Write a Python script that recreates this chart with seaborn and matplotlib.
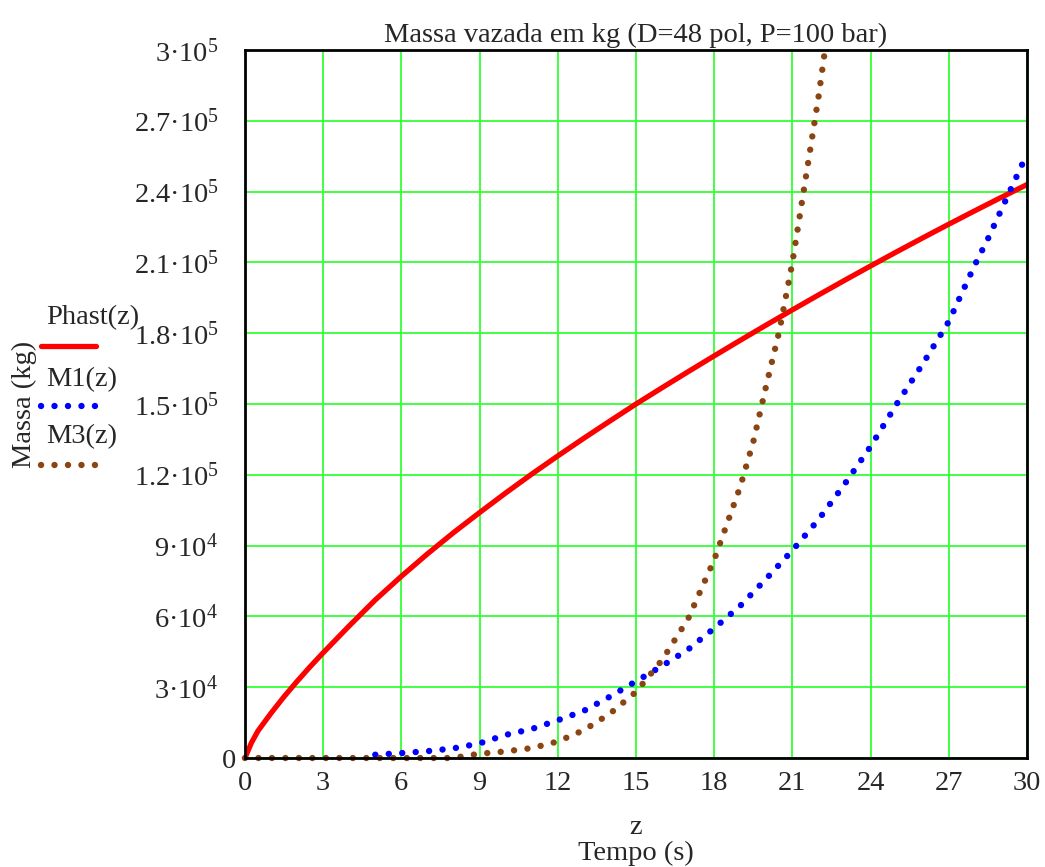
import numpy as np
import pandas as pd
import matplotlib
matplotlib.use("Agg")
import matplotlib.pyplot as plt
from matplotlib.lines import Line2D
import seaborn as sns

# Dados (tempo em s, massa em kg)
z_phast = [0, 0.25, 0.5, 1, 1.5, 2, 2.5, 3, 4, 5, 6, 7, 8, 9, 10, 11, 12, 13, 14, 15, 16,
           17, 18, 19, 20, 21, 22, 23, 24, 25, 26, 27, 28, 29, 30]
phast = [0, 6.5e3, 11.5e3, 19e3, 26e3, 32.5e3, 38.7e3, 44.6e3, 56e3, 67e3, 77e3, 86.5e3,
         95.5e3, 104e3, 112.3e3, 120.3e3, 128e3, 135.5e3, 142.8e3, 150e3, 156.9e3,
         163.7e3, 170.4e3, 177e3, 183.5e3, 189.9e3, 196.2e3, 202.4e3, 208.5e3, 214.5e3,
         220.4e3, 226.2e3, 231.9e3, 237.5e3, 243e3]

z_m1 = [5, 6, 7, 8, 9, 10, 11, 12, 13, 14, 15, 16, 17, 18, 19, 20, 21, 22, 23, 24, 25, 26,
        27, 27.5, 28, 28.5, 29, 29.5, 30]
m1 = [1.4e3, 2.1e3, 2.9e3, 4.1e3, 6.2e3, 9.8e3, 12.3e3, 16e3, 20e3, 26e3, 32.5e3, 39e3,
      46e3, 55e3, 64.5e3, 76e3, 88e3, 101e3, 116e3, 132e3, 150e3, 167e3, 185e3, 197e3,
      209e3, 220e3, 232e3, 244e3, 256e3]

z_m3 = [0, 1, 2, 3, 4, 5, 6, 7, 8, 8.5, 9, 10, 11, 12, 13, 14, 15, 16, 17, 18, 19, 19.5,
        20, 20.5, 21, 21.5, 22, 22.25]
m3 = [0, 0, 0, 0, 0, 0, 0, 0, 0, 1e3, 1.8e3, 2.8e3, 4.2e3, 7e3, 11.8e3, 18.8e3, 28e3,
      41.5e3, 59e3, 84e3, 115e3, 134e3, 158e3, 181e3, 210e3, 245e3, 280e3, 300e3]

xticks = [0, 3, 6, 9, 12, 15, 18, 21, 24, 27, 30]
yticks = [0, 3e4, 6e4, 9e4, 1.2e5, 1.5e5, 1.8e5, 2.1e5, 2.4e5, 2.7e5, 3e5]
ytick_labels = ['0', '3·10$^{4}$', '6·10$^{4}$', '9·10$^{4}$', '1.2·10$^{5}$',
                '1.5·10$^{5}$', '1.8·10$^{5}$', '2.1·10$^{5}$', '2.4·10$^{5}$',
                '2.7·10$^{5}$', '3·10$^{5}$']

series_names = ['Phast(z)', 'M1(z)', 'M3(z)']
series_colors = ['#ff0000', '#0000ff', '#8b4513']

sns.set_style("white")
plt.rcParams['font.family'] = ['Liberation Serif', 'DejaVu Serif']
plt.rcParams['mathtext.fontset'] = 'custom'
plt.rcParams['mathtext.rm'] = 'Liberation Serif'
plt.rcParams['mathtext.it'] = 'Liberation Serif:italic'

FS = 20.5
fig = plt.figure(figsize=(10.45, 8.67), dpi=100)
ax = fig.add_axes([0.2344, 0.1257, 0.7484, 0.8166])

dot = (0, (0.01, 2.1))
solid = dict(linewidth=3.8, linestyle='-')
dotted = dict(linewidth=4.6, linestyle=dot, dash_capstyle='round')

sns.lineplot(x=z_phast, y=phast, ax=ax, color=series_colors[0], sort=False, **solid)
sns.lineplot(x=z_m1, y=m1, ax=ax, color=series_colors[1], sort=False, clip_on=False, **dotted)
sns.lineplot(x=z_m3, y=m3, ax=ax, color=series_colors[2], sort=False, clip_on=False, **dotted)

ax.set_xlim(0, 30)
ax.set_ylim(0, 3e5)
ax.set_xticks(xticks)
ax.set_xticklabels([str(t) for t in xticks])
ax.set_yticks(yticks)
ax.set_yticklabels(ytick_labels)
ax.tick_params(length=0, labelsize=FS)
ax.tick_params(axis='x', pad=9)
ax.tick_params(axis='y', pad=19)
# o "0" do eixo y fica mais perto do eixo
ax.yaxis.get_major_ticks()[0].set_pad(6)
ax.grid(True, color='#33ff33', linewidth=1.3)
ax.set_axisbelow(True)
for s in ax.spines.values():
    s.set_color('black')
    s.set_linewidth(2)

ax.set_title('Massa vazada em kg (D=48 pol, P=100 bar)', fontsize=FS, pad=6)
fig.text(636 / 1045, 1 - 828 / 867, 'z', fontsize=FS, ha='center', va='center')
fig.text(636 / 1045, 1 - 853 / 867, 'Tempo (s)', fontsize=FS, ha='center', va='center')
fig.text(24 / 1045, 1 - 404 / 867, 'Massa (kg)', fontsize=FS, rotation=90,
         ha='center', va='center')

# legenda estilo Mathcad: nome acima da amostra da linha
leg_text_y = [318, 380, 437]
leg_line_y = [346, 406, 465]
for name, col, ty, ly, st in zip(series_names, series_colors, leg_text_y, leg_line_y,
                                 [solid, dotted, dotted]):
    fig.text(46 / 1045, 1 - ty / 867, name, fontsize=FS, ha='left', va='center')
    fig.add_artist(Line2D([41 / 1045, 96 / 1045], [1 - ly / 867, 1 - ly / 867], color=col,
                          transform=fig.transFigure, **st))

fig.savefig('out.png', dpi=100)
